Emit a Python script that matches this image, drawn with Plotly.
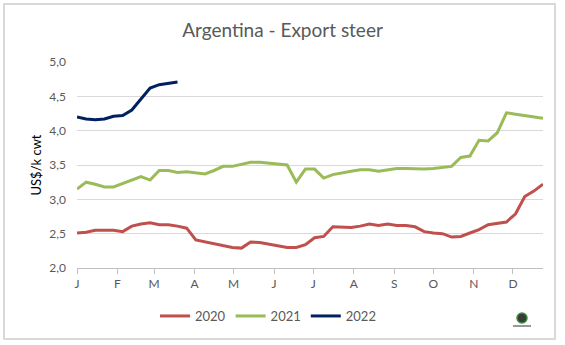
import datetime as dt
import plotly.graph_objects as go

# Weekly export steer prices, US$ per 100 kg (k cwt), plotted on a common calendar
week_start = dt.date(2021, 1, 1)
weeks = [week_start + dt.timedelta(days=7 * i) for i in range(52)]

price_2020 = [2.51, 2.52, 2.55, 2.55, 2.55, 2.53, 2.61, 2.64, 2.66, 2.63, 2.63, 2.61, 2.58,
              2.41, 2.38, 2.35, 2.33, 2.30, 2.29, 2.38, 2.37, 2.35, 2.32, 2.30, 2.30, 2.34,
              2.44, 2.46, 2.60, 2.59, 2.59, 2.61, 2.64, 2.62, 2.64, 2.62, 2.62, 2.60, 2.53,
              2.51, 2.50, 2.45, 2.46, 2.51, 2.56, 2.63, 2.65, 2.67, 2.79, 3.04, 3.12, 3.22]
price_2021 = [3.15, 3.25, 3.22, 3.18, 3.18, 3.23, 3.28, 3.33, 3.28, 3.42, 3.42, 3.39, 3.40,
              3.39, 3.37, 3.42, 3.48, 3.48, 3.51, 3.54, 3.54, 3.53, 3.52, 3.50, 3.25, 3.44,
              3.44, 3.31, 3.36, 3.39, 3.41, 3.43, 3.43, 3.41, 3.43, 3.45, 3.45, 3.44, 3.44,
              3.45, 3.47, 3.48, 3.61, 3.63, 3.86, 3.85, 3.97, 4.26, 4.24, 4.22, 4.20, 4.18]
price_2022 = [4.20, 4.17, 4.16, 4.17, 4.21, 4.22, 4.30, 4.46, 4.62, 4.67, 4.69, 4.71]

month_ticks = [dt.date(2021, m, 1) for m in range(1, 13)]
month_labels = ["J", "F", "M", "A", "M", "J", "J", "A", "S", "O", "N", "D"]

series = [
    ("2020", price_2020, "#C0504D"),
    ("2021", price_2021, "#9BBB59"),
    ("2022", price_2022, "#002060"),
]

FONT = "Lato, 'Open Sans', sans-serif"
GREY = "#595959"

fig = go.Figure()
for name, vals, color in series:
    fig.add_trace(go.Scatter(
        x=weeks[:len(vals)], y=vals, name=name, mode="lines",
        line=dict(color=color, width=3),
    ))

W, H = 565, 345
L, R, T, B = 77, 22, 62, 77
pw, ph = W - L - R, H - T - B


def px_x(x):
    return (x - L) / pw


def px_y(y):
    return (H - B - y) / ph


shapes = [
    # outer frame of the chart
    dict(type="rect", xref="paper", yref="paper",
         x0=px_x(4), x1=px_x(555), y0=px_y(339), y1=px_y(4),
         line=dict(color="#d9d9d9", width=2), fillcolor="rgba(0,0,0,0)", layer="below"),
    # small globe badge
    dict(type="circle", xref="paper", yref="paper",
         x0=px_x(517), x1=px_x(527), y0=px_y(323), y1=px_y(313),
         line=dict(color="#3a8f3a", width=1.5), fillcolor="#3a3a3a"),
    dict(type="line", xref="paper", yref="paper",
         x0=px_x(513), x1=px_x(531), y0=px_y(326), y1=px_y(326),
         line=dict(color="#777777", width=1.5)),
]

fig.update_layout(
    width=W, height=H,
    margin=dict(l=L, r=R, t=T, b=B),
    paper_bgcolor="white", plot_bgcolor="white",
    separators=",.",
    font=dict(family=FONT, color=GREY, size=12),
    title=dict(text="Argentina - Export steer", x=0.5, xanchor="center",
               y=1 - 30 / H, yanchor="middle",
               font=dict(family=FONT, size=19, color=GREY)),
    showlegend=True,
    legend=dict(orientation="h", x=px_x(268), xanchor="center",
                y=px_y(316), yanchor="middle",
                font=dict(family=FONT, size=13, color=GREY),
                bgcolor="rgba(0,0,0,0)", itemwidth=30),
    shapes=shapes,
    xaxis=dict(
        type="date", range=[weeks[0], weeks[-1]],
        tickvals=month_ticks, ticktext=month_labels,
        ticks="outside", ticklen=5, tickcolor="#bfbfbf",
        showline=True, linecolor="#bfbfbf", linewidth=1,
        showgrid=False, zeroline=False,
        tickfont=dict(family=FONT, size=12, color=GREY),
    ),
    yaxis=dict(
        range=[2, 5], dtick=0.5, tick0=2, tickformat=".1f",
        showgrid=True, gridcolor="#d9d9d9", gridwidth=1,
        showline=False, zeroline=False, ticks="",
        ticklabelstandoff=10,
        tickfont=dict(family=FONT, size=12, color=GREY),
        title=dict(text="US$/k cwt", standoff=4,
                   font=dict(family=FONT, size=13, color="#000000")),
    ),
)

fig.write_html("out.html")
